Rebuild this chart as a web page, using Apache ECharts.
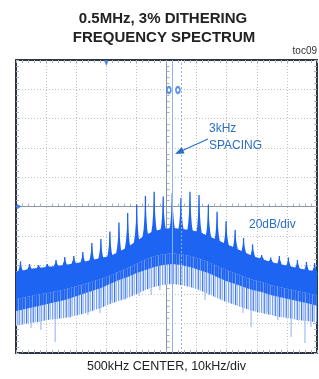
<!DOCTYPE html>
<html>
<head>
<meta charset="utf-8">
<script src="https://cdn.jsdelivr.net/npm/echarts@6/dist/echarts.min.js"></script>
<style>
html, body { margin: 0; padding: 0; background: #fff; }
#main { width: 319px; height: 379px; }
</style>
</head>
<body>
<div id="main"></div>
<script>
// spectrum, x = offset from 500kHz in kHz, y = dB relative to centre line (20dB/div)
var peakFreq = [-48.5, -45.5, -42.5, -39.6, -36.7, -33.8, -30.8, -27.8, -24.8, -21.8, -18.8, -15.8,
    -12.9, -9.9, -7.0, -4.1, -1.1, 1.9, 4.8, 7.8, 10.8, 13.9, 16.8, 19.8, 22.8, 25.6, 28.6, 31.6,
    34.6, 37.5, 40.5, 43.5, 46.5, 49.2];
var peakLevel = [-37.5, -39.2, -39.9, -39.2, -36.5, -34.5, -33.8, -31.1, -24.9, -22.2, -17.1, -10.9,
    -4.4, 1.4, 7.2, 10.1, 6.8, 9.0, 5.8, 10.1, 7.9, 1.0, -3.5, -9.9, -16.0, -21.5, -25.9, -33.1,
    -34.8, -33.8, -34.8, -36.5, -37.9, -38.6];

// noise floor: edges of the frame plus one point under every peak
var floorFreq = [-50].concat(peakFreq, [50]);
var floorTop = [-44.4, -44.0, -42.7, -42.0, -41.3, -40.6, -39.9, -38.9, -37.9, -36.5, -35.2, -33.8, -31.1,
    -27.6, -23.6, -19.5, -16.7, -15.4, -14.7, -15.4, -16.0, -17.4, -20.1, -22.9, -25.6, -28.3, -31.1,
    -33.8, -35.8, -37.9, -39.2, -40.6, -42.0, -43.3, -44.0, -44.7];
var floorDark = [-71.3, -70.6, -69.3, -67.9, -66.6, -65.2, -63.8, -61.8, -59.7, -57.7, -55.6, -52.9, -50.2,
    -48.1, -45.4, -43.3, -41.3, -39.9, -39.2, -39.9, -41.3, -43.3, -45.4, -48.1, -50.9, -52.9, -54.9,
    -57.0, -58.4, -60.4, -61.8, -63.1, -64.5, -65.9, -67.2, -67.9];
var floorLight = [-81.6, -80.9, -79.5, -78.8, -77.5, -76.8, -76.1, -74.7, -73.4, -71.3, -69.3, -66.6, -64.5,
    -62.5, -59.7, -57.0, -54.9, -53.6, -52.9, -53.6, -54.9, -57.0, -59.7, -62.5, -65.2, -67.2, -69.3,
    -71.3, -72.7, -74.1, -75.4, -76.1, -77.5, -78.2, -78.8, -78.8];

// deep downward noise spikes
var spikeFreq = [-49.3, -45.0, -41.7, -37.0, -32.1, -26.1, -22.1, -18.1, -13.8, -9.1, -5.1, -2.2,
    12.8, 25.4, 28.1, 30.1, 33.7, 37.0, 41.4, 46.0, 48.0];
var spikeLow = [-80.9, -82.9, -84.3, -92.5, -76.1, -74.1, -72.7, -63.8, -63.8, -61.1, -60.4, -57.0,
    -63.8, -72.7, -82.3, -70.6, -72.0, -77.5, -89.1, -93.2, -82.3];

var cursorFreq = [1.9, 5.05];
var cursorMarkFreq = [0.8, 3.8];
var cursorMarkLevel = 79.5;

var blue = '#1d64f2';
var frameColor = '#2d3644';
var tickColor = '#a9b1bc';
var font = '"Liberation Sans", Arial, sans-serif';

// streaky fill for the lighter lower edge of the noise floor
function streaks(cols) {
    var c = document.createElement('canvas');
    c.width = cols.length;
    c.height = 1;
    var ctx = c.getContext('2d');
    for (var i = 0; i < cols.length; i++) {
        ctx.fillStyle = cols[i];
        ctx.fillRect(i, 0, 1, 1);
    }
    return { image: c, repeat: 'repeat' };
}
var fringeFill = streaks(['#5d8ff2', '#d3e1fb', '#9dbcf6', '#eef3fd', '#3f7af0', '#c0d4f8',
    '#a7c2f6', '#f4f7fe', '#7aa3f3', '#dbe6fc', '#b5cbf7']);
var lowerFill = streaks(['#1d64f2', '#4a82f2', '#1d64f2', '#2a6cf2', '#6a98f3', '#1d64f2', '#3272f2']);

var box = { left: 16, top: 60, width: 301, height: 293 };

function frameAxis(type, pos, grid, split) {
    var ax = {
        type: 'value',
        gridIndex: grid,
        position: pos,
        min: type == 'x' ? -50 : -100,
        max: type == 'x' ? 50 : 100,
        interval: type == 'x' ? 10 : 20,
        axisLine: { show: true, onZero: false, lineStyle: { color: frameColor, width: 2 } },
        axisTick: { show: true, inside: true, length: 3, lineStyle: { color: tickColor } },
        minorTick: { show: true, splitNumber: 5, length: 3, lineStyle: { color: tickColor } },
        axisLabel: { show: false },
        splitLine: { show: split, lineStyle: { color: '#bcc2ca', type: [1, 2] } }
    };
    return ax;
}

function centreAxis(type) {
    var ax = frameAxis(type, type == 'x' ? 'bottom' : 'left', 1, false);
    ax.axisLine = { show: true, onZero: true, lineStyle: { color: '#8893a5', width: 1 } };
    ax.axisTick.show = false;
    return ax;
}

function band(upper, lower, fill) {
    return function (params, api) {
        var pts = [];
        for (var i = 0; i < floorFreq.length; i++) pts.push(api.coord([floorFreq[i], upper[i]]));
        for (var j = floorFreq.length - 1; j >= 0; j--) pts.push(api.coord([floorFreq[j], lower[j]]));
        return { type: 'polygon', shape: { points: pts }, style: { fill: fill } };
    };
}

var peakData = peakFreq.map(function (f, i) { return [f, peakLevel[i], floorTop[i + 1]]; });
var spikeData = spikeFreq.map(function (f, i) { return [f, spikeLow[i]]; });
// lower third of the dense floor is drawn streaky
var floorMid = floorTop.map(function (t, i) { return floorDark[i] + (t - floorDark[i]) * 0.3; });

var myChart = echarts.init(document.getElementById('main'));
var option = {
    animation: false,
    grid: [box, box],
    xAxis: [frameAxis('x', 'bottom', 0, true), frameAxis('x', 'top', 0, false), centreAxis('x')],
    yAxis: [frameAxis('y', 'left', 0, true), frameAxis('y', 'right', 0, false), centreAxis('y')],
    series: [
        {
            type: 'custom', name: 'fringe', z: 1,
            data: [[0, 0]],
            renderItem: band(floorTop, floorLight, fringeFill)
        },
        {
            type: 'custom', name: 'spikes', z: 2,
            data: spikeData,
            renderItem: function (params, api) {
                var a = api.coord([api.value(0), api.value(1)]);
                var b = api.coord([api.value(0), api.value(1) + 30]);
                return { type: 'line', shape: { x1: a[0], y1: a[1], x2: b[0], y2: b[1] },
                    style: { stroke: '#8fb0f0', lineWidth: 1 } };
            }
        },
        {
            type: 'custom', name: 'floor', z: 3,
            data: [[0, 0]],
            renderItem: band(floorTop, floorMid, blue)
        },
        {
            type: 'custom', name: 'floorLow', z: 3,
            data: [[0, 0]],
            renderItem: band(floorMid, floorDark, lowerFill)
        },
        {
            type: 'custom', name: 'peaks', z: 4,
            data: peakData,
            renderItem: function (params, api) {
                var top = api.coord([api.value(0), api.value(1)]);
                var foot = api.coord([api.value(0), api.value(2)]);
                var x = top[0], y = top[1], h = foot[1] - y;
                return {
                    type: 'group',
                    children: [
                        { type: 'polygon', shape: { points: [[x, y], [x + 0.8, y + h * 0.5], [x + 1.8, y + h * 0.85],
                            [x + 3.2, foot[1] + 4], [x - 3.2, foot[1] + 4], [x - 1.8, y + h * 0.85], [x - 0.8, y + h * 0.5]] },
                            style: { fill: blue } },
                        { type: 'line', shape: { x1: x, y1: y, x2: x, y2: foot[1] }, style: { stroke: blue, lineWidth: 1.3 } }
                    ]
                };
            },
            markLine: {
                silent: true,
                symbol: ['none', 'none'],
                label: { show: false },
                z: 6,
                data: [
                    { xAxis: cursorFreq[0], lineStyle: { color: '#8db2f2', width: 1, type: 'solid' } },
                    { xAxis: cursorFreq[1], lineStyle: { color: '#8db2f2', width: 1, type: [2, 2] } }
                ]
            }
        },
        {
            type: 'scatter', name: 'cursors', z: 7,
            symbol: 'emptyCircle',
            symbolSize: [4, 6],
            itemStyle: { color: '#3a78e6', borderWidth: 1.5 },
            data: cursorMarkFreq.map(function (f) { return [f, cursorMarkLevel]; })
        },
        {
            type: 'scatter', name: 'markers', z: 7, clip: false,
            itemStyle: { color: '#2f6fe8' },
            data: [
                { value: [-20, 100], symbol: 'triangle', symbolRotate: 180, symbolSize: [5, 6], symbolOffset: [0, 3] },
                { value: [-50, 0], symbol: 'triangle', symbolRotate: -90, symbolSize: [6, 5], symbolOffset: [3, 0] }
            ]
        }
    ],
    graphic: [
        { type: 'text', x: 163, y: 19, style: { text: '0.5MHz, 3% DITHERING', align: 'center', verticalAlign: 'middle',
            font: 'bold 15px ' + font, fill: '#222' } },
        { type: 'text', x: 164, y: 37.5, style: { text: 'FREQUENCY SPECTRUM', align: 'center', verticalAlign: 'middle',
            font: 'bold 15px ' + font, fill: '#222' } },
        { type: 'text', x: 317, y: 51, style: { text: 'toc09', align: 'right', verticalAlign: 'middle',
            font: '10px ' + font, fill: '#333' } },
        { type: 'text', x: 166.5, y: 367, style: { text: '500kHz CENTER, 10kHz/div', align: 'center', verticalAlign: 'middle',
            font: '12.5px ' + font, fill: '#222' } },
        { type: 'text', x: 209, y: 129, z: 10, style: { text: '3kHz', align: 'left', verticalAlign: 'middle',
            font: '12px ' + font, fill: '#2a6fc4' } },
        { type: 'text', x: 209, y: 145.5, z: 10, style: { text: 'SPACING', align: 'left', verticalAlign: 'middle',
            font: '12px ' + font, fill: '#2a6fc4' } },
        { type: 'text', x: 249, y: 225, z: 10, style: { text: '20dB/div', align: 'left', verticalAlign: 'middle',
            font: '12px ' + font, fill: '#2a6fc4' } },
        { type: 'line', z: 10, shape: { x1: 208, y1: 139, x2: 183, y2: 150.3 }, style: { stroke: '#2a6fc4', lineWidth: 1.2 } },
        { type: 'polygon', z: 10, shape: { points: [[175, 154], [184.6, 153.5], [181.8, 147.1]] }, style: { fill: '#2a6fc4' } }
    ]
};
myChart.setOption(option);
</script>
</body>
</html>
